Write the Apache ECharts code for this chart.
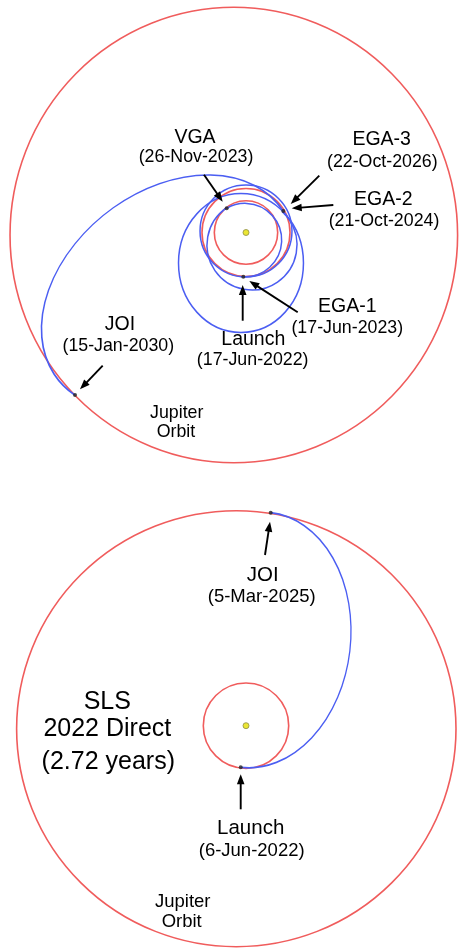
<!DOCTYPE html>
<html><head><meta charset="utf-8">
<script src="https://cdn.jsdelivr.net/npm/echarts@6/dist/echarts.min.js"></script>
<style>html,body{margin:0;padding:0;background:#fff}#main{width:460px;height:948px}</style>
</head><body><div id="main"></div>
<script>
// ================= DATA (units: AU, Sun at origin, +y up) =================
// ---- Top panel: Earth/Venus gravity-assist trajectory ----
// orbit rows: [centerX, centerY, semiAxisX, semiAxisY, rotationDeg, startDeg, endDeg]
const topPlanetOrbits = [
  [0, 0, 0.72, 0.72, 0, 0, 360],                // Venus
  [0, 0, 1.00, 1.00, 0, 0, 360],                // Earth
  [-0.277, -0.057, 5.086, 5.175, 0, 0, 360]     // Jupiter
];
const topTrajectory = [
  [0.000, 0.034, 1.045, 1.045, 0, 0, 360],          // Launch -> EGA-1
  [-0.023, -0.172, 0.834, 0.834, 0, 267.3, 479.9],  // EGA-1 -> VGA
  [0.136, -0.284, 1.023, 1.023, 0, 124.6, 407.4],   // VGA -> EGA-2
  [-0.114, -0.693, 1.420, 1.580, 0, 0, 360],        // EGA-2 -> EGA-3
  [-1.757, -1.366, 3.198, 2.298, 37.9, -3.4, 193.3] // EGA-3 -> JOI
];
const topEventNames = ['Launch / EGA-1', 'VGA', 'EGA-2 / EGA-3', 'JOI'];
const topEvents = [[-0.061, -1.005], [-0.439, 0.550], [0.848, 0.489], [-3.886, -3.693]];
// arrows: [fromX, fromY, toX, toY]
const topArrows = [
  [-0.955, 1.314, -0.530, 0.700],   // VGA
  [1.666, 1.291, 1.016, 0.648],     // EGA-3
  [1.984, 0.625, 1.039, 0.550],     // EGA-2
  [1.175, -1.814, 0.075, -1.102],   // EGA-1
  [-0.075, -2.005, -0.075, -1.193], // Launch
  [-3.257, -3.027, -3.773, -3.564]  // JOI
];
// labels: [text, x, y, kind]
const topLabels = [
  ['VGA', -1.159, 2.159, 'name'], ['(26-Nov-2023)', -1.136, 1.716, 'date'],
  ['EGA-3', 3.084, 2.102, 'name'], ['(22-Oct-2026)', 3.098, 1.595, 'date'],
  ['EGA-2', 3.120, 0.755, 'name'], ['(21-Oct-2024)', 3.136, 0.261, 'date'],
  ['EGA-1', 2.302, -1.686, 'name'], ['(17-Jun-2023)', 2.302, -2.177, 'date'],
  ['Launch', 0.166, -2.427, 'name'], ['(17-Jun-2022)', 0.152, -2.898, 'date'],
  ['JOI', -2.864, -2.102, 'name'], ['(15-Jan-2030)', -2.902, -2.580, 'date'],
  ['Jupiter', -1.575, -4.095, 'note'], ['Orbit', -1.591, -4.541, 'note']
];

// ---- Bottom panel: SLS 2022 direct trajectory ----
const botPlanetOrbits = [
  [0, 0, 1.00, 1.00, 0, 0, 360],                // Earth
  [-0.227, -0.070, 5.145, 5.105, 0, 0, 360]     // Jupiter
];
const botTrajectory = [
  [0.227, 2.007, 3.001, 2.220, 83.3, 180, 360]  // Launch -> JOI
];
const botEventNames = ['Launch', 'JOI'];
const botEvents = [[-0.124, -0.974], [0.578, 4.988]];
const botArrows = [
  [0.445, 3.998, 0.562, 4.778],     // JOI
  [-0.124, -1.958, -0.124, -1.138]  // Launch
];
const botLabels = [
  ['JOI', 0.391, 3.529, 'name'], ['(5-Mar-2025)', 0.368, 3.007, 'date'],
  ['SLS', -3.248, 0.562, 'title'], ['2022 Direct', -3.248, -0.084, 'title'], ['(2.72 years)', -3.225, -0.843, 'title'],
  ['Launch', 0.110, -2.403, 'name'], ['(6-Jun-2022)', 0.133, -2.934, 'date'],
  ['Jupiter', -1.482, -4.122, 'note'], ['Orbit', -1.506, -4.590, 'note']
];

// ================= LAYOUT / STYLE =================
const W = 460;
const panels = [
  { top: 0, height: 474, sunX: 246, sunY: 232.5, pxPerAU: 44,
    planets: topPlanetOrbits, traj: topTrajectory, events: topEvents, arrows: topArrows, labels: topLabels,
    fonts: { name: 19.5, date: 17.8, note: 17.8, title: 25 } },
  { top: 474, height: 474, sunX: 246, sunY: 725.7, pxPerAU: 42.7,
    planets: botPlanetOrbits, traj: botTrajectory, events: botEvents, arrows: botArrows, labels: botLabels,
    fonts: { name: 20.5, date: 18.5, note: 18.5, title: 25 } }
];
const RED = '#f05c5c', BLUE = '#4b5ef2', FONT = '"Liberation Sans", Arial, Helvetica, sans-serif';

const grids = [], xAxes = [], yAxes = [], series = [];
const D2R = Math.PI / 180;

function orbitRender(color, width) {
  return function (params, api) {
    const c = api.coord([api.value(0), api.value(1)]);
    const sz = api.size([api.value(2), api.value(3)]);
    const rx = sz[0], ry = sz[1];
    return {
      type: 'arc', x: c[0], y: c[1], rotation: api.value(4) * D2R,
      scaleX: 1, scaleY: ry / rx,
      shape: { cx: 0, cy: 0, r: rx, startAngle: -api.value(5) * D2R, endAngle: -api.value(6) * D2R, clockwise: false },
      style: { stroke: color, lineWidth: width, fill: null, strokeNoScale: true },
      silent: true
    };
  };
}
function arrowRender(params, api) {
  const p1 = api.coord([api.value(0), api.value(1)]);
  const p2 = api.coord([api.value(2), api.value(3)]);
  const dx = p2[0] - p1[0], dy = p2[1] - p1[1], len = Math.hypot(dx, dy);
  const ux = dx / len, uy = dy / len, L = 10, HW = 3.8;
  const bx = p2[0] - ux * L, by = p2[1] - uy * L;
  return { type: 'group', silent: true, children: [
    { type: 'line', shape: { x1: p1[0], y1: p1[1], x2: bx + ux * 1, y2: by + uy * 1 }, style: { stroke: '#000', lineWidth: 1.9 } },
    { type: 'polygon', shape: { points: [[p2[0], p2[1]], [bx - uy * HW, by + ux * HW], [bx + uy * HW, by - ux * HW]] }, style: { fill: '#000' } }
  ]};
}

panels.forEach(function (p, i) {
  grids.push({ left: 0, top: p.top, width: W, height: p.height });
  xAxes.push({ type: 'value', gridIndex: i, show: false, min: -p.sunX / p.pxPerAU, max: (W - p.sunX) / p.pxPerAU });
  yAxes.push({ type: 'value', gridIndex: i, show: false, min: -(p.top + p.height - p.sunY) / p.pxPerAU, max: (p.sunY - p.top) / p.pxPerAU });
  const ax = { coordinateSystem: 'cartesian2d', xAxisIndex: i, yAxisIndex: i };
  series.push(Object.assign({ type: 'custom', clip: false, renderItem: orbitRender(RED, 1.6), data: p.planets, encode: { x: 0, y: 1 } }, ax));
  series.push(Object.assign({ type: 'custom', clip: false, renderItem: orbitRender(BLUE, 1.5), data: p.traj, encode: { x: 0, y: 1 } }, ax));
  series.push(Object.assign({ type: 'custom', clip: false, renderItem: arrowRender, data: p.arrows, encode: { x: 0, y: 1 } }, ax));
  series.push(Object.assign({ type: 'scatter', symbolSize: 4, itemStyle: { color: '#222' }, data: p.events, silent: true }, ax));
  series.push(Object.assign({ type: 'scatter', symbolSize: 6, itemStyle: { color: '#e6e000', borderColor: '#8e8e48', borderWidth: 1 }, data: [[0, 0]], silent: true }, ax));
  const labels = p.labels;
  series.push(Object.assign({ type: 'custom', clip: false, data: labels.map(function (l) { return [l[1], l[2]]; }), encode: { x: 0, y: 1 },
    renderItem: function (params, api) {
      const l = labels[params.dataIndex];
      const c = api.coord([api.value(0), api.value(1)]);
      return { type: 'text', x: c[0], y: c[1], silent: true,
        style: { text: l[0], fill: '#000', fontSize: p.fonts[l[3]], fontFamily: FONT, align: 'center', verticalAlign: 'middle' } };
    } }, ax));
});

const chart = echarts.init(document.getElementById('main'), null, { renderer: 'canvas' });
chart.setOption({ animation: false, backgroundColor: '#fff', grid: grids, xAxis: xAxes, yAxis: yAxes, series: series });
</script></body></html>
